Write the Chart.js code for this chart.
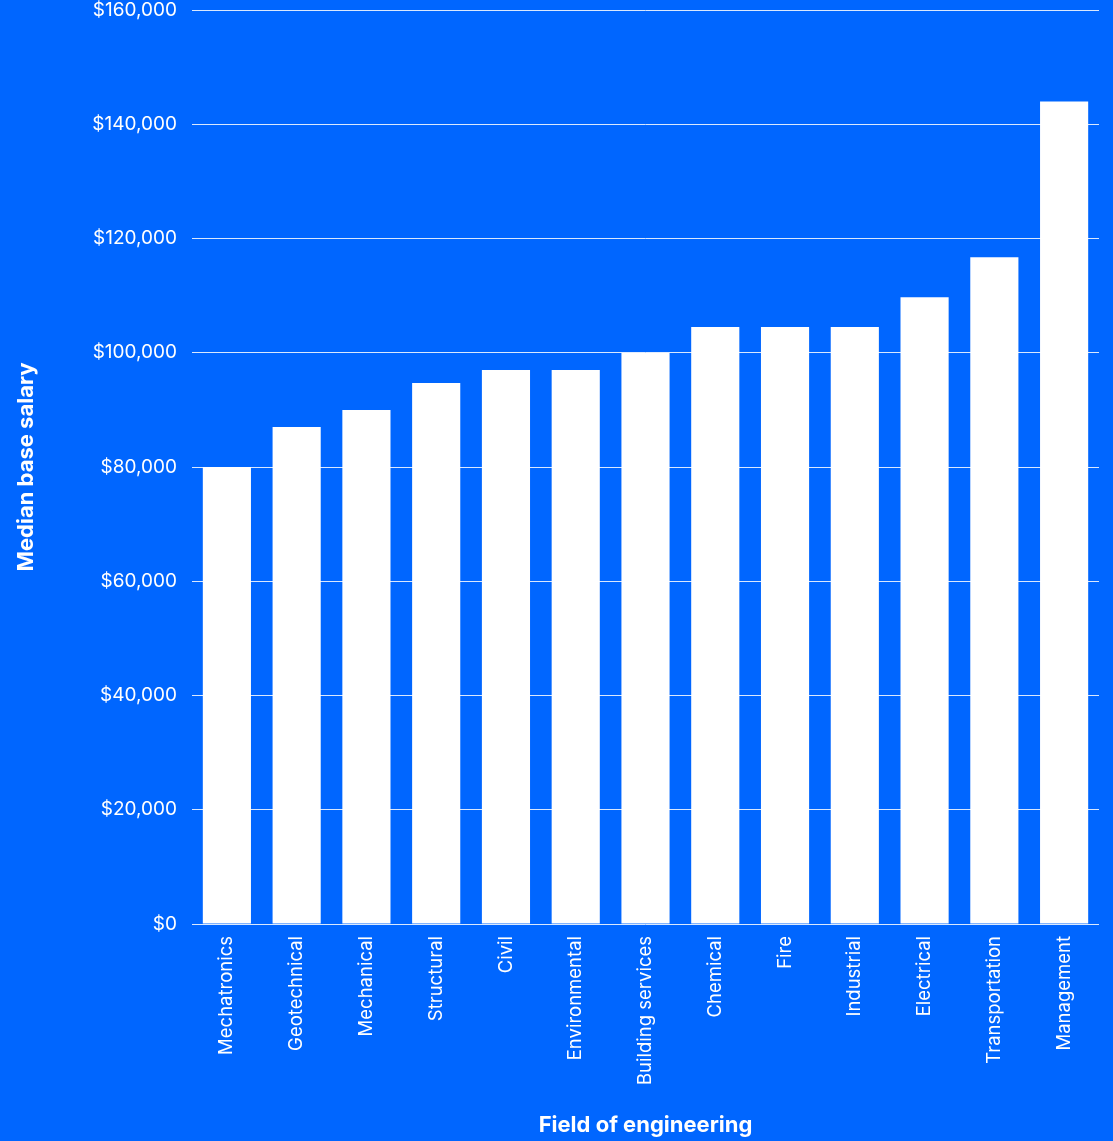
<!DOCTYPE html>
<html>
<head>
<meta charset="utf-8">
<script src="https://cdn.jsdelivr.net/npm/chart.js@4/dist/chart.umd.min.js"></script>
<style>
  html, body { margin: 0; padding: 0; background: #0066ff; }
  #wrap { width: 1113px; height: 1141px; }
</style>
</head>
<body>
<div id="wrap"><canvas id="c" width="1113" height="1141"></canvas></div>
<script>
// Median base salary by field of engineering
const fields = [
  'Mechatronics', 'Geotechnical', 'Mechanical', 'Structural', 'Civil',
  'Environmental', 'Building services', 'Chemical', 'Fire', 'Industrial',
  'Electrical', 'Transportation', 'Management'
];
const medianSalary = [
  80000, 87000, 90000, 94700, 97000,
  97000, 100000, 104500, 104500, 104500,
  109700, 116700, 144000
];
const salaryTicks = [0, 20000, 40000, 60000, 80000, 100000, 120000, 140000, 160000];

const WHITE = '#ffffff';
const FONT = 'Inter, "Liberation Sans", sans-serif';

new Chart(document.getElementById('c'), {
  type: 'bar',
  data: {
    labels: fields,
    datasets: [{
      label: 'Median base salary',
      data: medianSalary,
      backgroundColor: WHITE,
      borderWidth: 0,
      barPercentage: 0.69,
      categoryPercentage: 1.0
    }]
  },
  options: {
    responsive: false,
    animation: false,
    devicePixelRatio: 1,
    layout: { padding: { left: 0, right: 14, top: 0, bottom: 0 } },
    plugins: {
      legend: { display: false },
      tooltip: { enabled: false }
    },
    scales: {
      x: {
        grid: { display: false },
        border: { display: false },
        ticks: {
          color: WHITE,
          font: { family: FONT, size: 18.5 },
          minRotation: 90,
          maxRotation: 90,
          padding: 4,
          autoSkip: false
        },
        title: {
          display: true,
          text: 'Field of engineering',
          color: WHITE,
          font: { family: FONT, size: 22, weight: 'bold' },
          padding: { top: 0, bottom: 2 }
        },
        afterFit(scale) { scale.height = 217; }
      },
      y: {
        min: 0,
        max: 160000,
        afterBuildTicks(scale) {
          scale.ticks = salaryTicks.map(v => ({ value: v }));
        },
        grid: {
          color: 'rgba(255,255,255,0.85)',
          lineWidth: 1,
          drawTicks: false
        },
        border: { display: false },
        ticks: {
          color: WHITE,
          font: { family: FONT, size: 19 },
          padding: 15,
          callback: v => '$' + Number(v).toLocaleString('en-US')
        },
        title: {
          display: true,
          text: 'Median base salary',
          color: WHITE,
          font: { family: FONT, size: 22, weight: 'bold' },
          padding: { top: 13, bottom: 0 }
        },
        afterFit(scale) {
          scale.width = 192;
          scale.paddingTop = 10;
          scale.paddingBottom = 10;
        }
      }
    }
  }
});
</script>
</body>
</html>
